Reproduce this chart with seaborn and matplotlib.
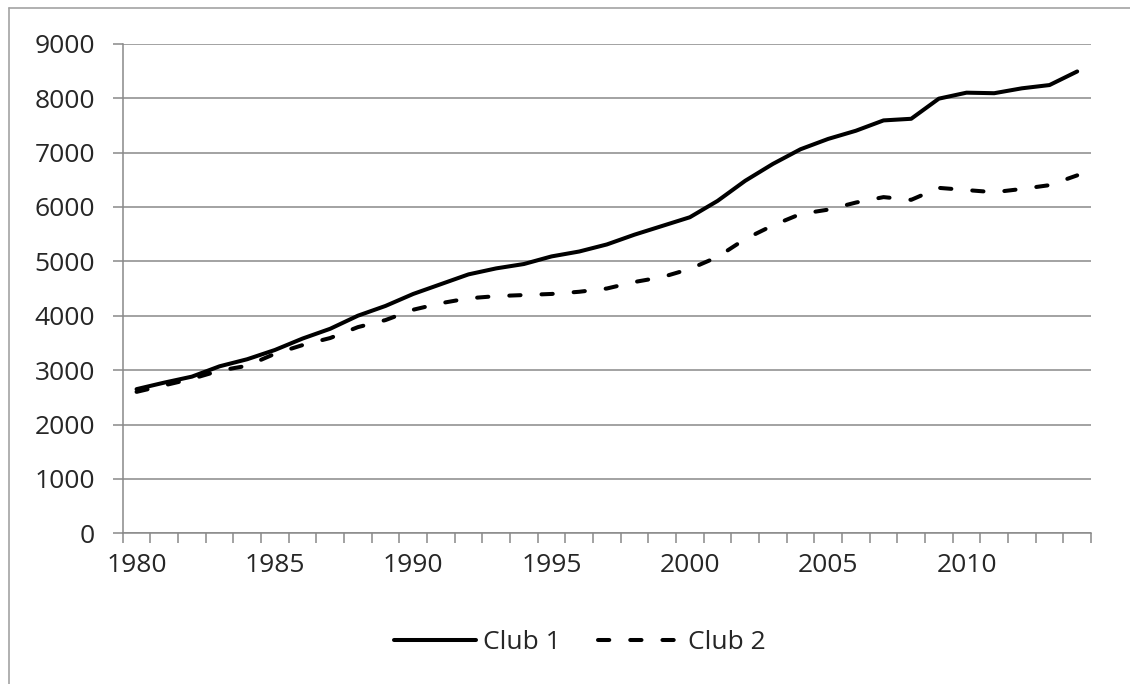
import pandas as pd
import matplotlib.pyplot as plt
import matplotlib.lines as mlines
import seaborn as sns

# Valores (1980-2014)
years = list(range(1980, 2015))
club1 = [2650, 2770, 2880, 3070, 3200, 3370, 3580, 3760, 4000, 4180,
         4400, 4580, 4760, 4870, 4950, 5090, 5180, 5310, 5490, 5650,
         5810, 6110, 6480, 6790, 7060, 7250, 7400, 7590, 7620, 7990,
         8100, 8090, 8180, 8240, 8490]
club2 = [2600, 2720, 2840, 2990, 3080, 3300, 3460, 3590, 3790, 3920,
         4110, 4230, 4320, 4360, 4380, 4400, 4440, 4500, 4620, 4710,
         4860, 5080, 5410, 5660, 5870, 5950, 6080, 6180, 6130, 6350,
         6310, 6270, 6330, 6400, 6580]
labels = ["Club 1", "Club 2"]

df = pd.DataFrame({
    "ano": years * 2,
    "valor": club1 + club2,
    "clube": [labels[0]] * len(years) + [labels[1]] * len(years),
})

sns.set_style("white")
plt.rcParams["font.family"] = ["Open Sans", "DejaVu Sans"]

grid_color = "#898989"

fig = plt.figure(figsize=(11.3, 6.84), dpi=100)
ax = fig.add_axes([0.1086, 0.2203, 0.9655 - 0.1086, 0.9361 - 0.2203])

sns.lineplot(data=df, x="ano", y="valor", hue="clube", style="clube",
             palette={"Club 1": "black", "Club 2": "black"},
             dashes={"Club 1": "", "Club 2": (2.8, 5.2)},
             linewidth=2.9, dash_capstyle="round", solid_capstyle="round",
             legend=False, ax=ax)

# Eixos no estilo Excel
ax.set_xlim(1979.5, 2014.5)
ax.set_ylim(0, 9000)
ax.set_yticks(range(0, 9001, 1000))
ax.set_xticks(range(1980, 2015, 5))
ax.set_xticks([y - 0.5 for y in range(1980, 2016)], minor=True)
ax.set_xlabel("")
ax.set_ylabel("")
ax.yaxis.grid(True, color=grid_color, linewidth=1.1)
ax.set_axisbelow(True)

for side in ["top", "right"]:
    ax.spines[side].set_visible(False)
for side in ["left", "bottom"]:
    ax.spines[side].set_color(grid_color)
    ax.spines[side].set_linewidth(1.1)

ax.tick_params(axis="y", length=7, width=1.1, color=grid_color,
               labelsize=19, pad=13, direction="out", left=True)
ax.tick_params(axis="x", which="major", length=0, labelsize=19, pad=14,
               bottom=True)
ax.tick_params(axis="x", which="minor", length=7, width=1.1,
               color=grid_color, direction="out", bottom=True)

# Legenda embaixo
fig.legend(ax.lines[:2], labels, loc="center", ncol=2,
           bbox_to_anchor=(0.513, 0.06), frameon=False, fontsize=19,
           handlelength=3.1, handletextpad=0.3, columnspacing=1.4)

# Borda da área do gráfico
border = "#a3a3a3"
fig.add_artist(mlines.Line2D([9 / 1130, 1], [1 - 8 / 684, 1 - 8 / 684],
                             color=border, linewidth=1.2,
                             transform=fig.transFigure))
fig.add_artist(mlines.Line2D([9 / 1130, 9 / 1130], [0, 1 - 8 / 684],
                             color=border, linewidth=1.2,
                             transform=fig.transFigure))

plt.savefig("out.png", dpi=100)
